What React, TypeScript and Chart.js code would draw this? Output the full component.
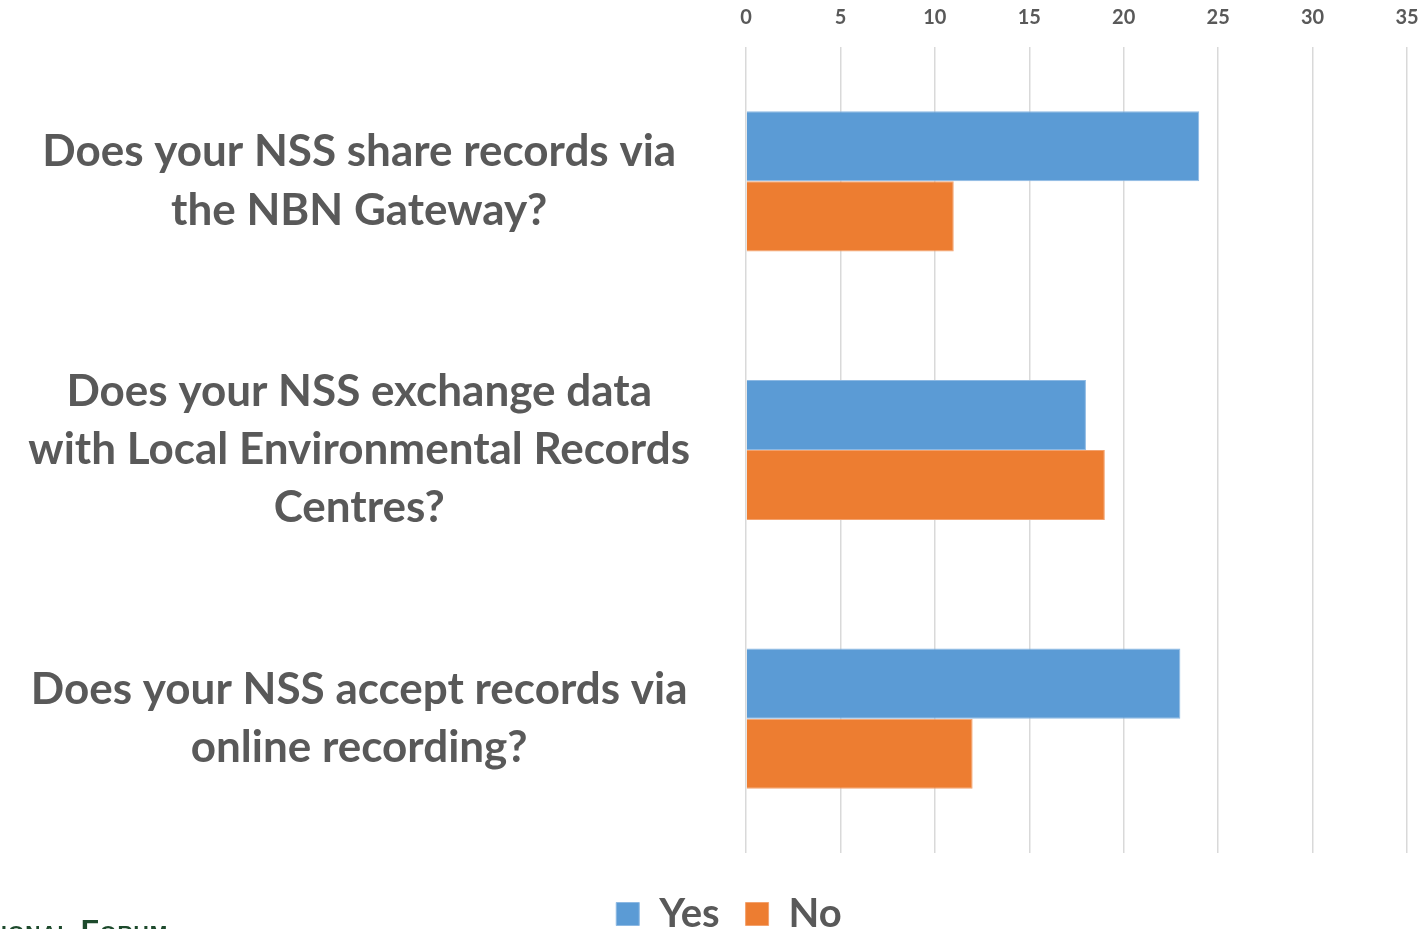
import React, { useEffect, useRef } from "react";
import { Chart, registerables } from "chart.js";

Chart.register(...registerables);

const categories: string[][] = [
  ["Does your NSS share records via", "the NBN Gateway?"],
  ["Does your NSS exchange data", "with Local Environmental Records", "Centres?"],
  ["Does your NSS accept records via", "online recording?"],
];
const yesValues = [24, 18, 23];
const noValues = [11, 19, 12];
const xTicks = [0, 5, 10, 15, 20, 25, 30, 35];

const FONT = "Lato, 'Open Sans', sans-serif";
const GREY = "#595959";

export default function App() {
  const ref = useRef<HTMLCanvasElement | null>(null);
  useEffect(() => {
    const chart = new Chart(ref.current!, {
      type: "bar",
      data: {
        labels: categories,
        datasets: [
          { label: "Yes", data: yesValues, backgroundColor: "#5B9BD5", borderColor: "#8DB9E3", borderWidth: 1, categoryPercentage: 0.522, barPercentage: 1 },
          { label: "No", data: noValues, backgroundColor: "#ED7D31", borderColor: "#F3A26E", borderWidth: 1, categoryPercentage: 0.522, barPercentage: 1 },
        ],
      },
      options: {
        indexAxis: "y",
        animation: false,
        responsive: true,
        maintainAspectRatio: false,
        layout: { padding: { top: 6, right: 0, left: 0, bottom: 0 } },
        plugins: {
          tooltip: { enabled: false },
          legend: {
            position: "bottom",
            title: { display: true, text: "", font: { size: 10 }, padding: { top: 0, bottom: 3 } },
            labels: {
              boxWidth: 23,
              boxHeight: 23,
              padding: 26,
              color: GREY,
              font: { family: FONT, size: 40, weight: "bold" },
            },
          },
        },
        scales: {
          x: {
            position: "top",
            min: 0,
            max: 35,
            afterBuildTicks: (s: any) => {
              s.ticks = xTicks.map((v) => ({ value: v }));
            },
            afterFit: (s: any) => {
              s.paddingLeft = 0;
              s.paddingRight = 0;
              s.height = 41;
            },
            ticks: {
              color: GREY,
              padding: 17,
              font: { family: FONT, size: 20, weight: "bold" },
            },
            grid: { color: "#d9d9d9", lineWidth: 1.5, drawTicks: false },
            border: { display: false },
          },
          y: {
            afterFit: (s: any) => {
              s.paddingTop = 0;
              s.paddingBottom = 0;
              s.width = 746;
            },
            ticks: {
              crossAlign: "center",
              padding: 56,
              color: GREY,
              font: { family: FONT, size: 44, weight: "bold", lineHeight: 1.32 },
            },
            grid: { display: false, drawTicks: false },
            border: { display: false },
          },
          yRight: {
            type: "linear",
            position: "right",
            display: true,
            afterFit: (s: any) => {
              s.paddingTop = 0;
              s.paddingBottom = 0;
              s.width = 51;
            },
            ticks: { display: false },
            grid: { display: false, drawTicks: false },
            border: { display: false },
          },
        },
      },
    } as any);
    return () => chart.destroy();
  }, []);
  return (
    <div style={{ position: "fixed", left: 0, top: 0, width: 1428, height: 929, overflow: "hidden", background: "#fff" }}>
      <div style={{ position: "absolute", left: 0, top: 0, width: 1458, height: 944 }}>
        <canvas ref={ref} />
      </div>
      <div
        style={{
          position: "absolute",
          left: -50,
          top: 913,
          fontFamily: "'Liberation Sans', sans-serif",
          fontVariant: "small-caps",
          fontSize: 30,
          fontWeight: "bold",
          color: "#1d4a2c",
          whiteSpace: "nowrap",
          letterSpacing: 1,
        }}
      >
        National Forum
      </div>
    </div>
  );
}
